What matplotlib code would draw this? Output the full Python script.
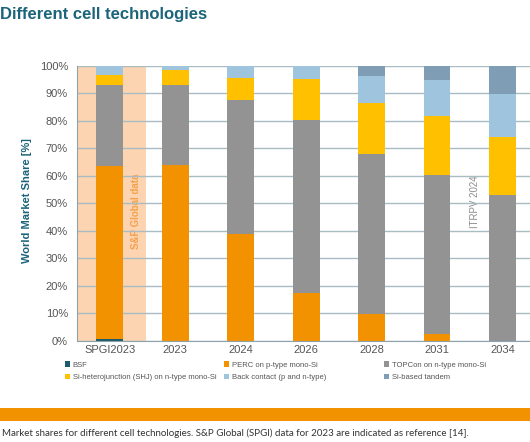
import matplotlib.pyplot as plt
from matplotlib.patches import Rectangle, Patch
import numpy as np

categories = ['SPGI2023', '2023', '2024', '2026', '2028', '2031', '2034']

bsf = [0.5, 0, 0, 0, 0, 0, 0]
perc = [63.0, 64.0, 39.0, 17.5, 9.7, 2.4, 0]
topcon = [29.6, 29.1, 48.8, 62.8, 58.4, 58.1, 53.1]
shj = [3.8, 5.3, 7.9, 14.8, 18.3, 21.3, 21.1]
back_contact = [3.1, 1.6, 4.3, 4.9, 10.0, 13.1, 15.5]
tandem = [0, 0, 0, 0, 3.6, 5.1, 10.3]

series = [
    ('BSF', bsf, '#1d5c6b'),
    ('PERC on p-type mono-Si', perc, '#f39200'),
    ('TOPCon on n-type mono-Si', topcon, '#939393'),
    ('Si-heterojunction (SHJ) on n-type mono-Si', shj, '#ffc000'),
    ('Back contact (p and n-type)', back_contact, '#9fc5de'),
    ('Si-based tandem', tandem, '#7f9db4'),
]

plt.rcParams['font.family'] = ['Liberation Sans', 'DejaVu Sans']

fig = plt.figure(figsize=(5.3, 4.42), dpi=100)
ax = fig.add_axes([77 / 530, 1 - 340.7 / 442, 453 / 530, 274.7 / 442])

x = np.arange(len(categories))
bottom = np.zeros(len(categories))
for name, vals, col in series:
    ax.bar(x, vals, 0.41, bottom=bottom, color=col, zorder=3, label=name)
    bottom += np.array(vals)

# S&P shaded reference column
ax.axvspan(-0.5, 0.55, color='#fcd4b2', zorder=0, lw=0)

ax.set_xlim(-0.5, 6.42)
ax.set_ylim(0, 100)
ax.set_yticks(range(0, 101, 10))
ax.set_yticklabels([f'{v}%' for v in range(0, 101, 10)])
ax.set_xticks(x)
ax.set_xticklabels(categories)
ax.tick_params(length=0, labelsize=8, colors='#555555')
ax.tick_params(axis='y', pad=6.5)
ax.tick_params(axis='x', pad=3)
ax.yaxis.grid(True, color='#a9bcc2', lw=1, zorder=1)
ax.set_axisbelow(False)
for s in ['top', 'right']:
    ax.spines[s].set_visible(False)
for s in ['left', 'bottom']:
    ax.spines[s].set_color('#8fa3aa')
    ax.spines[s].set_zorder(4)

ax.set_ylabel('World Market Share [%]', fontsize=8, fontweight='bold', color='#1b6479')
ax.yaxis.set_label_coords(-0.099, 0.51)

ax.text(0.4, 47, 'S&P Global data', rotation=90, ha='center', va='center',
        fontsize=7, fontweight='bold', color='#f5a04a', zorder=2)
ax.text(5.58, 50.6, 'ITRPV 2024', rotation=90, ha='center', va='center',
        fontsize=7, color='#8c8c8c', zorder=2,
        bbox=dict(facecolor='white', edgecolor='none', pad=2))

# title
fig.text(0.0, 0.967, 'Different cell technologies', fontsize=12, fontweight='bold',
         color='#1b6479', ha='left', va='center')

# legend in three columns
handles = [Patch(facecolor=c, edgecolor='none') for _, _, c in series]
names = [n for n, _, _ in series]
col_x = [65 / 530, 224 / 530, 384 / 530]
for i in range(3):
    fig.legend([handles[i], handles[i + 3]], [names[i], names[i + 3]],
               loc='upper left', bbox_to_anchor=(col_x[i], 1 - 361.5 / 442),
               frameon=False, fontsize=5.5, handlelength=0.7, handleheight=0.7,
               handletextpad=0.3, labelspacing=0.65, borderaxespad=0,
               borderpad=0, labelcolor='#555555')

# orange band and caption
fig.patches.append(Rectangle((0, 1 - 421 / 442), 1, 13 / 442, transform=fig.transFigure,
                             facecolor='#f39200', edgecolor='none'))
fig.text(0.004, 1 - 433 / 442,
         'Market shares for different cell technologies. S&P Global (SPGI) data for 2023 are indicated as reference [14].',
         fontsize=7, family=['Lato', 'DejaVu Sans'], color='#333333', ha='left', va='center')

fig.savefig('out.png', dpi=100)
